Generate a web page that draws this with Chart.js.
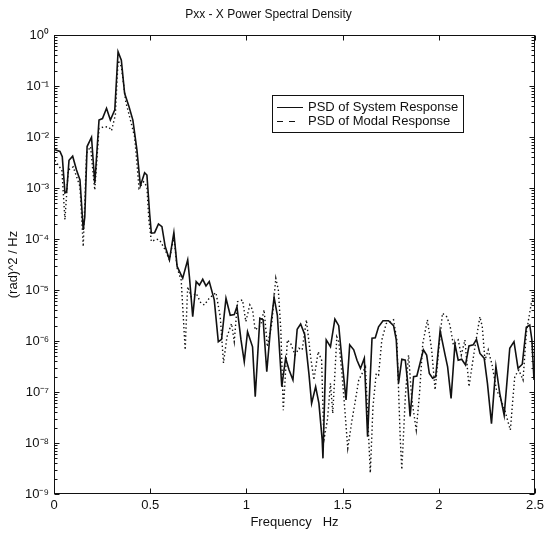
<!DOCTYPE html>
<html><head><meta charset="utf-8">
<script src="https://cdn.jsdelivr.net/npm/chart.js@4/dist/chart.umd.min.js"></script>
<style>html,body{margin:0;padding:0;background:#fff}canvas{display:block}</style>
</head><body>
<canvas id="c" width="548" height="535"></canvas>
<script>
const titleText = 'Pxx - X Power Spectral Density';
const xTitle = 'Frequency   Hz';
const yTitle = '(rad)^2 / Hz';
const seriesLabels = ['PSD of System Response', 'PSD of Modal Response'];
const xTicks = [0, 0.5, 1, 1.5, 2, 2.5];
const yDecades = [1e-9, 1e-8, 1e-7, 1e-6, 1e-5, 1e-4, 1e-3, 1e-2, 1e-1, 1];
const yTickLabels = ['10⁻⁹', '10⁻⁸', '10⁻⁷', '10⁻⁶', '10⁻⁵', '10⁻⁴', '10⁻³', '10⁻²', '10⁻¹', '10⁰'];

const freqSystem = [0.005,0.031,0.043,0.057,0.066,0.078,0.097,0.117,0.135,0.152,0.160,0.172,0.195,0.212,0.234,0.252,0.273,0.293,0.316,0.333,0.350,0.367,0.390,0.410,0.431,0.449,0.471,0.483,0.497,0.506,0.523,0.543,0.561,0.578,0.600,0.623,0.640,0.669,0.695,0.704,0.721,0.739,0.756,0.773,0.790,0.807,0.833,0.854,0.871,0.894,0.916,0.937,0.951,0.972,0.989,1.006,1.032,1.046,1.070,1.087,1.106,1.127,1.144,1.161,1.184,1.204,1.222,1.242,1.264,1.282,1.303,1.325,1.339,1.360,1.377,1.394,1.398,1.415,1.437,1.460,1.480,1.497,1.518,1.537,1.558,1.575,1.593,1.613,1.630,1.653,1.670,1.687,1.710,1.739,1.765,1.779,1.791,1.808,1.826,1.837,1.851,1.869,1.886,1.903,1.920,1.937,1.951,1.968,1.984,2.007,2.033,2.046,2.064,2.084,2.101,2.119,2.139,2.157,2.179,2.196,2.214,2.236,2.253,2.274,2.297,2.317,2.340,2.369,2.391,2.412,2.434,2.455,2.473,2.484,2.495];
const psdSystem = [5.6e-3,5.2e-3,4.1e-3,8.0e-4,8.5e-4,3.5e-3,4.2e-3,2.25e-3,1.44e-3,1.5e-4,
2.7e-4,6.5e-3,9.9e-3,1.24e-3,2.15e-2,2.3e-2,3.65e-2,2.15e-2,3.4e-2,0.47,
0.32,7.2e-2,3.9e-2,2.15e-2,5.6e-3,1.11e-3,2.0e-3,1.8e-3,3.2e-4,1.3e-4,
1.33e-4,1.97e-4,1.74e-4,7.1e-5,3.9e-5,1.33e-4,2.9e-5,1.7e-5,3.9e-5,1.8e-5,
3.0e-6,1.46e-5,1.25e-5,1.62e-5,1.2e-5,1.46e-5,6.4e-6,9.7e-7,1.08e-6,6.9e-6,
3.2e-6,3.3e-6,4.7e-6,1.05e-6,3.9e-7,1.52e-6,7.7e-7,8.1e-8,2.8e-6,2.6e-6,
2.5e-7,2.06e-6,7.2e-6,3.2e-6,1.27e-7,4.6e-7,2.7e-7,1.72e-7,1.7e-6,2.15e-6,
1.35e-6,2.3e-7,6.0e-8,1.27e-7,6.0e-8,1.15e-8,5.0e-9,1.05e-6,7.7e-7,2.7e-6,
2.0e-6,4.2e-7,7.0e-8,8.4e-7,6.7e-7,4.2e-7,2.9e-7,4.6e-7,1.33e-8,1.13e-6,
1.16e-6,1.9e-6,2.5e-6,2.5e-6,2.0e-6,1.05e-6,1.48e-7,4.4e-7,4.2e-7,1.72e-7,
3.3e-8,2.0e-7,2.06e-7,3.7e-7,6.7e-7,5.3e-7,2.3e-7,1.86e-7,2.0e-7,1.6e-6,
5.3e-7,3.1e-7,7.5e-8,8.7e-7,4.2e-7,4.4e-7,3.4e-7,8.0e-7,8.4e-7,1.08e-6,
5.7e-7,4.6e-7,1.48e-7,2.4e-8,3.2e-7,9.4e-8,3.5e-8,7.2e-7,9.7e-7,2.9e-7,
3.5e-7,1.86e-6,2.06e-6,1.05e-6,1.72e-7];

const freqModal = [0.005,0.022,0.041,0.057,0.074,0.100,0.135,0.152,0.169,0.190,0.212,0.234,0.264,0.286,0.299,0.319,0.333,0.350,0.373,0.393,0.419,0.442,0.466,0.483,0.493,0.506,0.532,0.549,0.578,0.600,0.623,0.640,0.661,0.682,0.695,0.713,0.739,0.764,0.782,0.807,0.842,0.864,0.881,0.899,0.923,0.937,0.954,0.980,0.997,1.018,1.032,1.046,1.075,1.092,1.109,1.132,1.153,1.166,1.179,1.192,1.213,1.230,1.253,1.273,1.290,1.312,1.334,1.351,1.373,1.391,1.403,1.421,1.437,1.449,1.470,1.480,1.497,1.527,1.549,1.567,1.584,1.619,1.644,1.658,1.675,1.687,1.704,1.727,1.765,1.782,1.800,1.808,1.826,1.843,1.860,1.883,1.900,1.917,1.941,1.963,1.981,1.998,2.019,2.041,2.058,2.076,2.101,2.117,2.136,2.157,2.188,2.214,2.226,2.240,2.257,2.277,2.300,2.317,2.343,2.372,2.395,2.416,2.438,2.455,2.481,2.498];
const psdModal = [3.5e-3,2.8e-3,2.25e-3,2.4e-4,2.25e-3,2.6e-3,1.06e-3,7.1e-5,4.8e-3,6.5e-3,
9.1e-4,1.48e-2,1.6e-2,1.55e-2,1.33e-2,2.7e-2,0.32,0.24,4.9e-2,2.5e-2,
1.01e-2,9.9e-4,1.33e-3,1.06e-3,2.4e-4,8.9e-5,9.9e-5,9.6e-5,6.1e-5,3.9e-5,
1.11e-4,2.7e-5,1.57e-5,6.7e-7,1.16e-5,7.4e-6,8.6e-6,5.5e-6,5.1e-6,6.9e-6,
8.9e-6,3.0e-6,3.7e-7,1.21e-6,2.2e-6,9.7e-7,5.9e-6,6.4e-6,2.4e-6,5.1e-6,
4.1e-6,1.64e-6,2.06e-6,4.1e-6,7.7e-7,2.2e-6,1.7e-5,1.0e-5,1.64e-6,4.4e-8,
1.05e-6,9.0e-7,5.3e-7,7.2e-7,6.7e-7,2.6e-6,4.9e-7,1.72e-7,6.2e-7,4.2e-7,
1.15e-8,2.8e-8,1.48e-7,3.8e-8,1.2e-6,9.7e-7,2.3e-7,7.9e-9,2.8e-8,7.0e-8,
1.72e-7,3.1e-7,2.6e-9,5.2e-8,2.3e-7,2.15e-7,1.05e-6,2.2e-6,2.6e-6,1.05e-6,
1.15e-8,3.0e-9,8.1e-8,5.3e-7,7.0e-8,1.8e-8,9.4e-8,9.0e-7,2.6e-6,6.7e-7,
1.1e-7,5.7e-7,3.5e-6,3.0e-6,2.06e-6,8.4e-7,1.05e-6,5.3e-7,1.05e-6,1.27e-7,
7.7e-7,3.0e-6,1.9e-6,4.2e-7,6.7e-7,3.4e-7,1.1e-7,8.1e-8,4.4e-8,1.8e-8,
2.0e-7,2.7e-7,1.72e-7,1.42e-6,5.5e-6,7.4e-6];

function pairs(xs, ys) {
  const n = Math.min(xs.length, ys.length);
  const out = [];
  for (let i = 0; i < n; i++) out.push({x: xs[i], y: ys[i]});
  return out;
}

const INK = '#111';
const FONT = "'Liberation Sans', Arial, Helvetica, sans-serif";

const framePlugin = {
  id: 'frameTicks',
  afterDatasetsDraw(chart) {
    const {ctx, chartArea: a, scales: {x, y}} = chart;
    ctx.save();
    ctx.strokeStyle = INK;
    ctx.lineWidth = 1;
    const L = Math.round(a.left) + 0.5, R = Math.round(a.right) - 0.5;
    const T = Math.round(a.top) + 0.5, B = Math.round(a.bottom) - 0.5;
    ctx.strokeRect(L, T, R - L, B - T);
    ctx.beginPath();
    xTicks.forEach(v => {
      const px = Math.round(x.getPixelForValue(v)) + 0.5;
      ctx.moveTo(px, B); ctx.lineTo(px, B - 5);
      ctx.moveTo(px, T); ctx.lineTo(px, T + 5);
    });
    for (let d = 0; d < yDecades.length; d++) {
      const base = yDecades[d];
      const maxM = d === yDecades.length - 1 ? 1 : 9;
      for (let m = 1; m <= maxM; m++) {
        const py = Math.round(y.getPixelForValue(base * m)) + 0.5;
        const len = m === 1 ? 5 : 3;
        ctx.moveTo(L, py); ctx.lineTo(L + len, py);
        ctx.moveTo(R, py); ctx.lineTo(R - len, py);
      }
    }
    ctx.stroke();
    ctx.restore();
  }
};

const legendPlugin = {
  id: 'boxLegend',
  afterDraw(chart) {
    const ctx = chart.ctx;
    const bx = 272.5, by = 95.5, bw = 191, bh = 37;
    ctx.save();
    ctx.fillStyle = '#fff';
    ctx.fillRect(bx, by, bw, bh);
    ctx.strokeStyle = INK;
    ctx.lineWidth = 1;
    ctx.strokeRect(bx, by, bw, bh);
    const rows = [107, 121];
    chart.data.datasets.forEach((ds, i) => {
      const yy = rows[i] + 0.5;
      ctx.beginPath();
      ctx.lineWidth = 1;
      if (i === 1) ctx.setLineDash([6, 6]); else ctx.setLineDash([]);
      ctx.moveTo(277, yy);
      ctx.lineTo(i === 1 ? 295 : 303, yy);
      ctx.stroke();
      ctx.setLineDash([]);
      ctx.fillStyle = INK;
      ctx.font = '13px ' + FONT;
      ctx.textBaseline = 'middle';
      ctx.textAlign = 'left';
      ctx.fillText(ds.label, 308, rows[i] + 0.5);
    });
    ctx.restore();
  }
};

new Chart(document.getElementById('c'), {
  type: 'line',
  data: {
    datasets: [
      {
        label: seriesLabels[0],
        data: pairs(freqSystem, psdSystem),
        borderColor: INK,
        borderWidth: 1.6,
        pointRadius: 0,
        tension: 0,
        fill: false
      },
      {
        label: seriesLabels[1],
        data: pairs(freqModal, psdModal),
        borderColor: INK,
        borderWidth: 1.4,
        borderDash: [1.4, 2.6],
        pointRadius: 0,
        tension: 0,
        fill: false
      }
    ]
  },
  options: {
    responsive: false,
    animation: false,
    devicePixelRatio: 1,
    layout: {padding: {left: 0, right: 11, top: 0, bottom: 0}},
    plugins: {
      legend: {display: false},
      tooltip: {enabled: false},
      title: {
        display: true,
        text: titleText,
        color: INK,
        font: {family: FONT, size: 12, weight: 'normal'},
        padding: {top: 7.5, bottom: 13.1}
      }
    },
    scales: {
      x: {
        type: 'linear',
        min: 0, max: 2.5,
        afterBuildTicks: s => { s.ticks = xTicks.map(v => ({value: v})); },
        afterFit: s => { s.height = 41; },
        grid: {display: false, drawTicks: false},
        border: {display: false},
        ticks: {
          color: INK,
          font: {family: FONT, size: 13},
          padding: 4,
          maxRotation: 0,
          callback: v => String(v)
        },
        title: {
          display: true,
          text: xTitle,
          color: INK,
          font: {family: FONT, size: 13},
          padding: {top: 0, bottom: 5}
        }
      },
      y: {
        type: 'logarithmic',
        min: 1e-9, max: 1,
        afterBuildTicks: s => { s.ticks = yDecades.map(v => ({value: v})); },
        afterFit: s => { s.width = 54; },
        grid: {display: false, drawTicks: false},
        border: {display: false},
        ticks: {
          color: INK,
          font: {family: FONT, size: 13},
          padding: 5,
          autoSkip: false,
          callback: (v) => {
            const i = yDecades.findIndex(d => Math.abs(Math.log10(d) - Math.log10(v)) < 1e-6);
            return i >= 0 ? yTickLabels[i] : '';
          }
        },
        title: {
          display: true,
          text: yTitle,
          color: INK,
          font: {family: FONT, size: 13},
          padding: {top: 6, bottom: 0}
        }
      }
    }
  },
  plugins: [framePlugin, legendPlugin]
});
</script>
</body></html>
